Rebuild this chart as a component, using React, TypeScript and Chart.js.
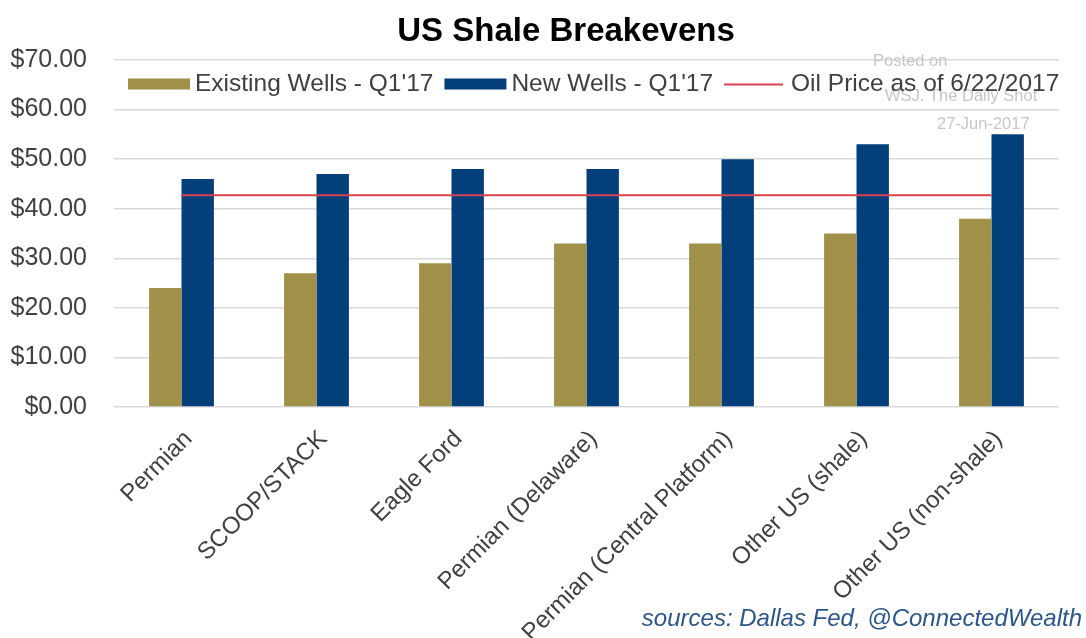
import React, { useEffect, useRef } from 'react';
import { Chart, registerables } from 'chart.js';

Chart.register(...registerables);

const chartTitle = 'US Shale Breakevens';
const categories = [
  'Permian',
  'SCOOP/STACK',
  'Eagle Ford',
  'Permian (Delaware)',
  'Permian (Central Platform)',
  'Other US (shale)',
  'Other US (non-shale)',
];
const seriesLabels = ["Existing Wells - Q1'17", "New Wells - Q1'17", 'Oil Price as of 6/22/2017'];
const existingWells = [24, 27, 29, 33, 33, 35, 38];
const newWells = [46, 47, 48, 48, 50, 53, 55];
const oilPrice = [42.7, 42.7, 42.7, 42.7, 42.7, 42.7, 42.7];
const yMin = 0;
const yMax = 70;
const yStep = 10;
const watermarkLines = ['Posted on', 'WSJ. The Daily Shot', '27-Jun-2017'];
const sourceNote = 'sources: Dallas Fed, @ConnectedWealth';

const FONT = '"Liberation Sans", Arial, Helvetica, sans-serif';
const GOLD = '#a09049';
const BLUE = '#033f7b';
const RED = '#d9434d';
const TEXT = '#404040';

const overlayPlugin = {
  id: 'overlay',
  afterDraw(chart: any) {
    const ctx = chart.ctx as CanvasRenderingContext2D;
    const area = chart.chartArea;
    ctx.save();
    // title
    ctx.font = `bold 33px ${FONT}`;
    ctx.fillStyle = '#000';
    ctx.textAlign = 'center';
    ctx.textBaseline = 'middle';
    ctx.fillText(chartTitle, 566, 32);

    // watermark
    ctx.font = `16.5px ${FONT}`;
    ctx.fillStyle = '#c6c6c6';
    ctx.textAlign = 'left';
    ctx.fillText(watermarkLines[0], 873, 61);
    ctx.fillText(watermarkLines[1], 885, 96);
    ctx.fillText(watermarkLines[2], 937, 124);

    // legend
    const y = 84;
    let x = area.left + 14;
    ctx.font = `24.5px ${FONT}`;
    chart.data.datasets.forEach((ds: any) => {
      if (ds.type === 'line') {
        ctx.strokeStyle = ds.borderColor;
        ctx.lineWidth = 2;
        ctx.beginPath();
        ctx.moveTo(x, y + 0.5);
        ctx.lineTo(x + 59, y + 0.5);
        ctx.stroke();
        x += 59 + 8;
      } else {
        ctx.fillStyle = ds.backgroundColor;
        ctx.fillRect(x, y - 5.5, 62, 11);
        x += 62 + 5;
      }
      ctx.fillStyle = TEXT;
      ctx.fillText(ds.label, x, y);
      x += ctx.measureText(ds.label).width + 11;
    });

    // source note
    ctx.font = `italic 24px ${FONT}`;
    ctx.fillStyle = '#2b5687';
    ctx.textAlign = 'right';
    ctx.fillText(sourceNote, 1082, 619);
    ctx.restore();
  },
};

export default function App() {
  const ref = useRef<HTMLCanvasElement>(null);
  useEffect(() => {
    const chart = new Chart(ref.current as HTMLCanvasElement, {
      type: 'bar',
      data: {
        labels: categories,
        datasets: [
          {
            type: 'bar',
            label: seriesLabels[0],
            data: existingWells,
            backgroundColor: GOLD,
            order: 1,
            categoryPercentage: 0.48,
            barPercentage: 1,
          },
          {
            type: 'bar',
            label: seriesLabels[1],
            data: newWells,
            backgroundColor: BLUE,
            order: 1,
            categoryPercentage: 0.48,
            barPercentage: 1,
          },
          {
            type: 'line',
            label: seriesLabels[2],
            data: oilPrice,
            borderColor: RED,
            backgroundColor: RED,
            borderWidth: 2,
            pointRadius: 0,
            fill: false,
            order: 0,
          },
        ] as any,
      },
      options: {
        animation: false,
        responsive: true,
        maintainAspectRatio: false,
        layout: { padding: { left: 0, right: 27, top: 60, bottom: 0 } },
        plugins: {
          legend: { display: false },
          tooltip: { enabled: false },
          title: { display: false },
        },
        scales: {
          x: {
            grid: { display: false },
            border: { display: false },
            ticks: {
              autoSkip: false,
              minRotation: 45,
              maxRotation: 45,
              color: TEXT,
              font: { family: FONT, size: 24 },
              padding: 10,
              labelOffset: 7,
            },
            afterFit(scale: any) {
              scale.height = 231;
            },
          },
          y: {
            min: yMin,
            max: yMax,
            border: { display: false },
            grid: { color: '#d9d9d9', lineWidth: 1.5, drawTicks: false },
            ticks: {
              stepSize: yStep,
              color: TEXT,
              font: { family: FONT, size: 25 },
              padding: 27,
              callback: (v: any) => '$' + Number(v).toFixed(2),
            },
            afterFit(scale: any) {
              scale.width = 114;
            },
          },
        },
      } as any,
      plugins: [overlayPlugin],
    });
    return () => chart.destroy();
  }, []);
  return (
    <div style={{ position: 'fixed', left: 0, top: 0, width: 1086, height: 638, background: '#fff' }}>
      <canvas ref={ref} />
    </div>
  );
}
